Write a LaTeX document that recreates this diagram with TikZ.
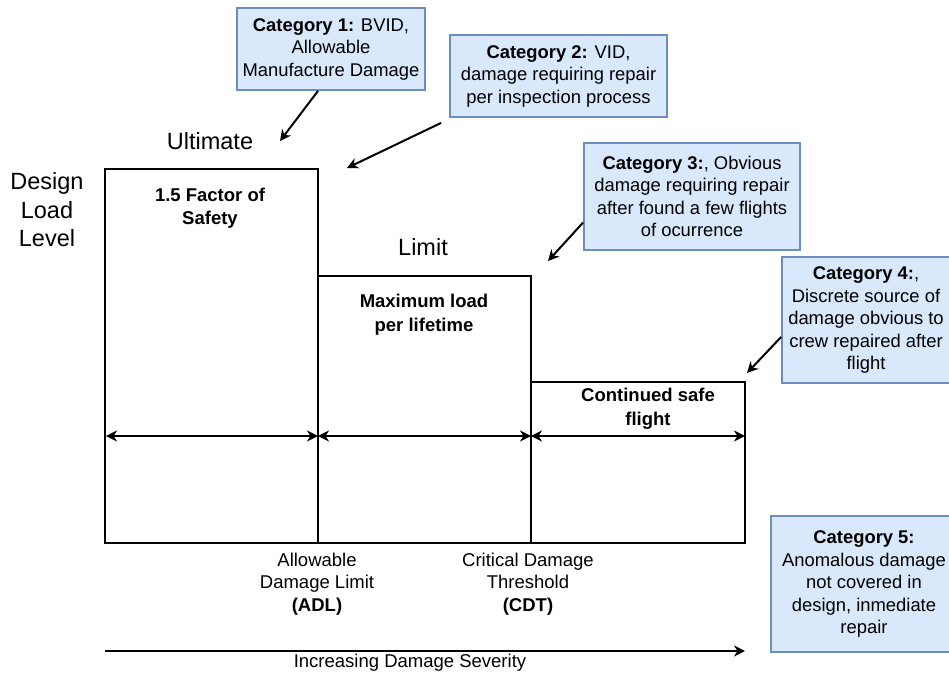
\documentclass[tikz,border=0pt]{standalone}
\usepackage{fontspec}
\setmainfont{Liberation Sans}
\usetikzlibrary{arrows.meta}
\definecolor{catfill}{HTML}{DAE8FC}
\definecolor{catborder}{HTML}{6C8EBF}
\begin{document}
\begin{tikzpicture}[x=1pt,y=-1pt,
  catbox/.style={draw=catborder, fill=catfill, line width=1.8pt, inner sep=0pt,
    align=center, font=\fontsize{18.4}{22.5}\selectfont},
  lbl/.style={inner sep=0pt, align=center, font=\fontsize{18.5}{22.5}\selectfont},
  biglbl/.style={inner sep=0pt, align=center, font=\fontsize{23.5}{28.5}\selectfont},
  outline/.style={line width=2.6pt, line join=miter},
  conn/.style={line width=2pt, -{Stealth[length=11pt,width=11pt,inset=3.5pt]}},
  dim/.style={line width=2pt, {Stealth[length=11pt,width=11pt,inset=3.5pt]}-{Stealth[length=11pt,width=11pt,inset=3.5pt]}}
]
\useasboundingbox (0,0) rectangle (949,673);

% main step outline
\draw[outline] (105,169) rectangle (318,543);
\draw[outline] (318,276) rectangle (531,543);
\draw[outline] (531,382) rectangle (745,543);

% dimension arrows
\coordinate (a0) at (106,436);
\coordinate (a1) at (318,436);
\coordinate (a2) at (531,436);
\coordinate (a3) at (745,436);
\draw[dim] (a0) -- (a1);
\draw[dim] (a1) -- (a2);
\draw[dim] (a2) -- (a3);

% labels
\node[biglbl] (ult) at (210,141) {Ultimate};
\node[biglbl] (dll) at (47,210) {Design\\Load\\Level};
\node[biglbl] (lim) at (423,247) {Limit};
\node[lbl, font=\fontsize{18.5}{23}\selectfont\bfseries] (fos) at (210,208) {1.5 Factor of\\Safety};
\node[lbl, font=\fontsize{18.5}{24}\selectfont\bfseries] (mlp) at (424,315) {Maximum load\\per lifetime};
\node[lbl, font=\fontsize{18.5}{24}\selectfont\bfseries] (csf) at (648,409) {Continued safe\\flight};
\node[lbl] (adl) at (317,584) {Allowable\\Damage Limit\\\textbf{(ADL)}};
\node[lbl] (cdt) at (528,584) {Critical Damage\\Threshold\\\textbf{(CDT)}};
\node[lbl] (ids) at (410,663) {Increasing Damage Severity};

% severity arrow
\coordinate (s0) at (105,651);
\coordinate (s1) at (745,651);
\draw[conn] (s0) -- (s1);

% category boxes
\node[catbox, minimum width=188pt, minimum height=82pt] (c1) at (331,49)
  {\textbf{Category 1:} BVID,\\Allowable\\Manufacture Damage};
\node[catbox, minimum width=217pt, minimum height=82pt] (c2) at (558.5,76)
  {\textbf{Category 2:} VID,\\damage requiring repair\\per inspection process};
\node[catbox, minimum width=216pt, minimum height=107pt] (c3) at (692,196.5)
  {\textbf{Category 3:}, Obvious\\damage requiring repair\\after found a few flights\\of ocurrence};
\node[catbox, minimum width=168pt, minimum height=126pt] (c4) at (866,320)
  {\textbf{Category 4:},\\Discrete source of\\damage obvious to\\crew repaired after\\flight};
\node[catbox, minimum width=186pt, minimum height=136pt] (c5) at (864,584)
  {\textbf{Category 5:}\\Anomalous damage\\not covered in\\design, inmediate\\repair};

% category connectors
\coordinate (t1) at (280,141);
\coordinate (t2) at (347,168);
\coordinate (t3) at (548,261);
\coordinate (t4) at (747,373);
\draw[conn] ([xshift=-13pt]c1.south) -- (t1);
\draw[conn] ([xshift=-8pt,yshift=-5pt]c2.south west) -- (t2);
\draw[conn] ([yshift=-26pt]c3.west) -- (t3);
\draw[conn] ([yshift=-17pt]c4.west) -- (t4);
\end{tikzpicture}
\end{document}
